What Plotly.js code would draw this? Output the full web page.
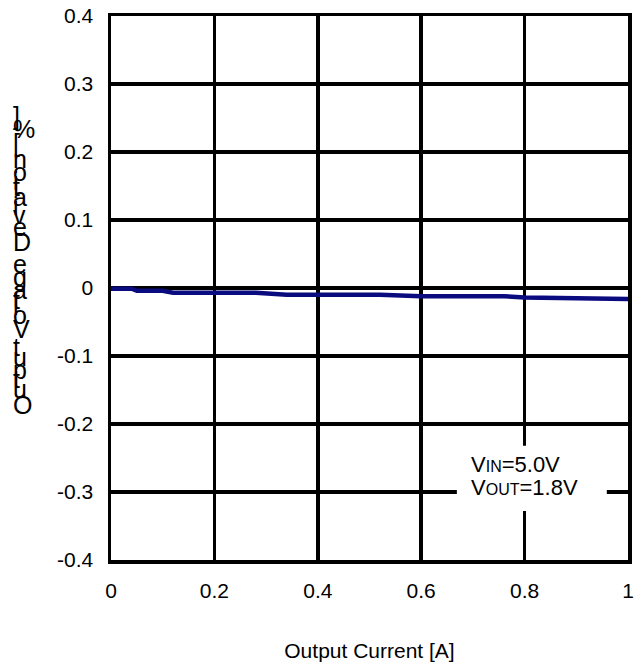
<!DOCTYPE html>
<html>
<head>
<meta charset="utf-8">
<script src="https://cdn.plot.ly/plotly-3.0.1.min.js"></script>
<style>html,body{margin:0;padding:0;background:#fff;}#chart{width:640px;height:668px;}</style>
</head>
<body>
<div id="chart"></div>
<script>
// Data
const outputCurrent = [0.0, 0.04, 0.05, 0.10, 0.12, 0.20, 0.28, 0.34, 0.42, 0.52, 0.60, 0.70, 0.76, 0.80, 0.90, 1.0];
const outputDeviation = [-0.001, -0.001, -0.004, -0.004, -0.007, -0.007, -0.007, -0.010, -0.010, -0.010, -0.012, -0.012, -0.012, -0.014, -0.015, -0.016];
const xTicks = [0, 0.2, 0.4, 0.6, 0.8, 1];
const xTickLabels = ['0', '0.2', '0.4', '0.6', '0.8', '1'];
const yTicks = [-0.4, -0.3, -0.2, -0.1, 0, 0.1, 0.2, 0.3, 0.4];
const yTickLabels = ['-0.4', '-0.3', '-0.2', '-0.1', '0', '0.1', '0.2', '0.3', '0.4'];
const yTitle = 'Output Voltage Deviation [%]';
const xTitle = 'Output Current [A]';
const conditionLines = [
  'V<span style="font-size:16px">IN</span>=5.0V',
  'V<span style="font-size:16px">OUT</span>=1.8V'
];

const FONT = 'Liberation Sans, Arial, sans-serif';
const W = 640, H = 668;
const M = {l: 111, r: 12, t: 16, b: 108};
const plotW = W - M.l - M.r, plotH = H - M.t - M.b;

// Y title: glyphs drawn upright, stacked bottom-to-top along the text advance
const advanceSize = 23.5;
const glyphSize = 25;
const cv = document.createElement('canvas').getContext('2d');
cv.font = advanceSize + 'px "Liberation Sans", Arial, sans-serif';
const annotations = [];
let cum = 0;
const startPx = 414;
for (const ch of yTitle) {
  const w = cv.measureText(ch).width;
  if (ch !== ' ') {
    const cy = startPx - (cum + w / 2);
    annotations.push({
      xref: 'paper', yref: 'paper',
      x: (11 - M.l) / plotW, y: (H - M.b - cy) / plotH,
      xanchor: 'left', yanchor: 'middle',
      text: ch, showarrow: false,
      font: {family: FONT, size: glyphSize, color: '#000'}
    });
  }
  cum += w;
}

// Condition label (two lines, tight spacing)
const condY = [-0.259, -0.293];
conditionLines.forEach((t, i) => {
  annotations.push({
    xref: 'x', yref: 'y', x: 0.6925, y: condY[i],
    xanchor: 'left', yanchor: 'middle', align: 'left',
    text: t, showarrow: false,
    font: {family: FONT, size: 22, color: '#000'}
  });
});

const shapes = [{
  type: 'rect', xref: 'x', yref: 'y', layer: 'above',
  x0: 0.669, x1: 0.959, y0: -0.232, y1: -0.328,
  fillcolor: '#ffffff', line: {width: 0}
}];

const trace = {
  x: outputCurrent, y: outputDeviation, type: 'scatter', mode: 'lines',
  line: {color: '#0b0b80', width: 4.5}, hoverinfo: 'skip'
};

const layout = {
  width: W, height: H,
  margin: M,
  paper_bgcolor: '#fff', plot_bgcolor: '#fff',
  showlegend: false,
  font: {family: FONT, size: 21, color: '#000'},
  xaxis: {
    range: [0, 1], tickvals: xTicks, ticktext: xTickLabels,
    showgrid: true, gridcolor: '#000', gridwidth: 3.5,
    showline: true, linecolor: '#000', linewidth: 3.5, mirror: true,
    zeroline: false, ticks: '', ticklabelstandoff: 9,
    tickfont: {family: FONT, size: 21, color: '#000'},
    title: {text: xTitle, standoff: 43, font: {family: FONT, size: 21, color: '#000'}}
  },
  yaxis: {
    range: [-0.4, 0.4], tickvals: yTicks, ticktext: yTickLabels,
    showgrid: true, gridcolor: '#000', gridwidth: 3.5,
    showline: true, linecolor: '#000', linewidth: 3.5, mirror: true,
    zeroline: false, ticks: '', ticklabelstandoff: 10,
    tickfont: {family: FONT, size: 21, color: '#000'}
  },
  annotations: annotations,
  shapes: shapes
};

Plotly.newPlot('chart', [trace], layout, {staticPlot: true, displayModeBar: false});
</script>
</body>
</html>
